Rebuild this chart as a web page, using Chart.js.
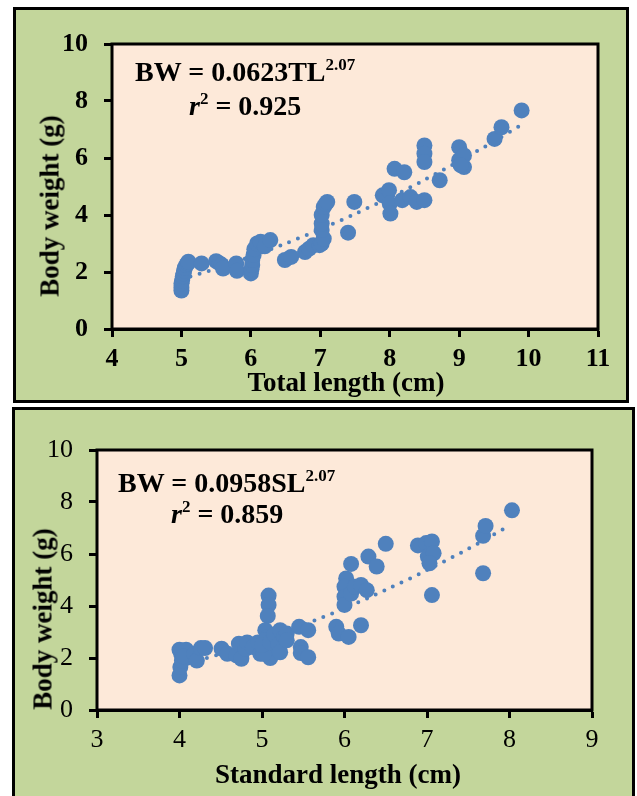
<!DOCTYPE html>
<html><head><meta charset="utf-8">
<script src="https://cdn.jsdelivr.net/npm/chart.js@4.4.0/dist/chart.umd.min.js"></script>
<style>
html,body{margin:0;padding:0;background:#fff;}
body{width:637px;height:796px;position:relative;overflow:hidden;}
.panel{position:absolute;box-sizing:border-box;border:3px solid #000;background:#C3D69B;}
.cw{position:absolute;}
.txt{position:absolute;font-family:"Liberation Serif","Times New Roman",serif;font-weight:bold;color:#000;white-space:nowrap;}
.eq{font-size:28px;line-height:28px;}
.eq .sup{font-size:17px;position:relative;top:-11px;}
.eq .sq{font-size:17px;position:relative;top:-11px;font-style:normal;}
.ttl{font-size:27px;line-height:27px;}
</style></head>
<body>
<div class="panel" style="left:13px;top:7px;width:616px;height:396px;"></div>
<div class="panel" style="left:12px;top:407px;width:623px;height:400px;"></div>
<div class="cw" style="left:16px;top:10px;"><canvas id="c1" width="609" height="389"></canvas></div>
<div class="cw" style="left:16px;top:411px;"><canvas id="c2" width="615" height="385"></canvas></div>

<div class="txt eq" style="left:135px;top:58px;">BW = 0.0623TL<span class="sup">2.07</span></div>
<div class="txt eq" style="left:189px;top:92px;"><i>r</i><span class="sq">2</span> = 0.925</div>
<div class="txt ttl" style="left:346px;top:369px;transform:translateX(-50%);">Total length (cm)</div>
<div class="txt ttl" style="left:50px;top:206px;transform:translate(-50%,-50%) rotate(-90deg);">Body weight (g)</div>

<div class="txt eq" style="left:118px;top:469px;">BW = 0.0958SL<span class="sup">2.07</span></div>
<div class="txt eq" style="left:171px;top:500px;"><i>r</i><span class="sq">2</span> = 0.859</div>
<div class="txt ttl" style="left:338px;top:761px;transform:translateX(-50%);">Standard length (cm)</div>
<div class="txt ttl" style="left:43px;top:619px;transform:translate(-50%,-50%) rotate(-90deg);">Body weight (g)</div>

<script>
// ---- Data: total length (cm) vs body weight (g) ----
const tlLength = [5.0,5.0,5.0,5.01,5.02,5.03,5.04,5.05,5.07,5.09,5.1,5.29,
  5.5,5.55,5.58,5.6,5.79,5.8,
  6.0,6.01,6.02,6.02,6.04,6.05,6.09,6.14,6.2,6.28,
  6.49,6.58,6.78,6.84,6.9,6.99,
  7.02,7.05,7.02,7.02,7.02,7.05,7.08,7.1,
  7.4,7.49,
  7.9,7.99,8.0,8.01,8.07,8.21,8.18,8.3,8.39,8.5,
  8.5,8.5,8.5,8.72,
  9.0,9.0,9.07,9.07,9.02,
  9.51,9.61,9.9];
const tlWeight = [1.35,1.45,1.6,1.7,1.85,1.95,2.05,2.15,2.25,2.3,2.36,2.3,
  2.38,2.3,2.25,2.12,2.3,2.04,
  1.95,2.1,2.25,2.42,2.6,2.8,3.0,3.06,2.9,3.12,
  2.42,2.53,2.7,2.82,2.94,2.94,
  3.0,3.17,3.47,3.7,4.0,4.28,4.4,4.46,
  3.38,4.46,
  4.69,4.87,4.4,4.05,5.62,5.5,4.52,4.63,4.46,4.52,
  6.44,6.15,5.86,5.22,
  6.38,5.92,6.09,5.68,5.75,
  6.67,7.08,7.67];
// trendline (power fit shown in the chart)
const tlTrendX = [5.0,5.5,6.0,6.5,7.0,7.5,8.0,8.5,9.0,9.5,9.9];
const tlTrendY = [1.74,2.12,2.54,3.0,3.5,4.04,4.61,5.23,5.89,6.58,7.17];

// ---- Data: standard length (cm) vs body weight (g) ----
const slLength = [4.0,4.01,4.03,4.02,4.0,4.08,4.05,
  4.18,4.21,4.26,4.31,
  4.51,4.58,4.69,
  4.72,4.75,4.8,4.82,4.89,4.95,4.98,
  5.08,5.08,5.07,5.04,5.07,5.09,5.1,5.03,5.02,5.0,5.1,5.15,5.2,
  5.22,5.27,5.22,5.3,5.45,5.56,5.47,5.47,5.56,5.3,
  5.9,5.93,6.05,6.2,
  6.02,6.0,6.0,6.0,6.08,6.13,6.2,6.27,
  6.08,6.29,6.39,6.5,
  6.89,6.99,7.06,7.01,7.08,7.03,7.06,
  7.68,7.71,7.68,
  8.03];
const slWeight = [1.33,1.65,1.9,2.16,2.32,2.32,2.06,
  2.16,1.9,2.38,2.38,
  2.36,2.16,2.1,
  2.55,1.97,2.35,2.6,2.42,2.6,2.16,
  4.4,4.04,3.62,3.07,2.81,2.42,2.0,2.68,2.16,2.5,2.6,2.9,2.5,
  3.07,2.81,2.22,2.94,3.2,3.07,2.42,2.19,2.03,2.68,
  3.2,2.94,2.81,3.26,
  5.06,4.74,4.36,4.04,4.48,4.74,4.81,4.61,
  5.62,5.9,5.52,6.39,
  6.33,6.42,6.48,5.9,6.03,5.64,4.42,
  6.7,7.08,5.26,
  7.68];
const slTrendX = [4.0,4.5,5.0,5.5,6.0,6.5,7.0,7.5,8.0];
const slTrendY = [1.69,2.16,2.68,3.27,3.91,4.62,5.38,6.2,7.09];

const FONT = "'Liberation Serif','Times New Roman',serif";
const BLUE = '#4F81BD';

const framePlugin = {
  id: 'frame',
  beforeDatasetsDraw(chart) {
    const {ctx, chartArea: a} = chart;
    ctx.save();
    ctx.fillStyle = '#FDE9D9';
    ctx.fillRect(a.left, a.top, a.width, a.height);
    ctx.restore();
  },
  afterDraw(chart) {
    const {ctx, chartArea: a} = chart;
    ctx.save();
    ctx.strokeStyle = '#000';
    ctx.lineWidth = 3;
    ctx.strokeRect(a.left, a.top, a.width, a.height);
    ctx.restore();
  }
};

function pts(xs, ys) { return xs.map((x, i) => ({x: x, y: ys[i]})); }

function makeChart(id, o) {
  return new Chart(document.getElementById(id), {
    type: 'scatter',
    data: {
      datasets: [
        {
          data: pts(o.x, o.y),
          backgroundColor: BLUE, borderColor: BLUE, borderWidth: 0,
          pointRadius: 8, pointHoverRadius: 8, order: 1
        },
        {
          type: 'line',
          data: pts(o.tx, o.ty),
          borderColor: BLUE, borderWidth: 4, borderDash: [0, 9.5],
          borderCapStyle: 'round', pointRadius: 0, fill: false, tension: 0.3, order: 2
        }
      ]
    },
    options: {
      responsive: false, animation: false, devicePixelRatio: 1,
      layout: {padding: {top: o.padTop, right: o.padRight, left: 0, bottom: 0}},
      plugins: {legend: {display: false}, tooltip: {enabled: false}},
      scales: {
        x: {
          type: 'linear', min: o.xMin, max: o.xMax,
          ticks: {stepSize: 1, color: '#000', padding: 7, maxRotation: 0, autoSkip: false,
                  font: {family: FONT, size: 26, weight: o.tickWeight}},
          grid: {drawOnChartArea: false, drawTicks: true, tickLength: 8, tickWidth: 3, tickColor: '#000'},
          border: {display: true, color: '#000', width: 3},
          afterFit(s) { s.height = o.xAxisH; }
        },
        y: {
          type: 'linear', min: 0, max: 10,
          ticks: {stepSize: 2, color: '#000', padding: 16,
                  font: {family: FONT, size: 26, weight: o.tickWeight}},
          grid: {drawOnChartArea: false, drawTicks: true, tickLength: 8, tickWidth: 3, tickColor: '#000'},
          border: {display: true, color: '#000', width: 3},
          afterFit(s) { s.width = o.yAxisW; }
        }
      }
    },
    plugins: [framePlugin]
  });
}

makeChart('c1', {x: tlLength, y: tlWeight, tx: tlTrendX, ty: tlTrendY,
  xMin: 4, xMax: 11, tickWeight: 'bold',
  padTop: 34, padRight: 27, yAxisW: 96, xAxisH: 70});
makeChart('c2', {x: slLength, y: slWeight, tx: slTrendX, ty: slTrendY,
  xMin: 3, xMax: 9, tickWeight: 'normal',
  padTop: 39, padRight: 39, yAxisW: 81, xAxisH: 86});
</script>
</body></html>
